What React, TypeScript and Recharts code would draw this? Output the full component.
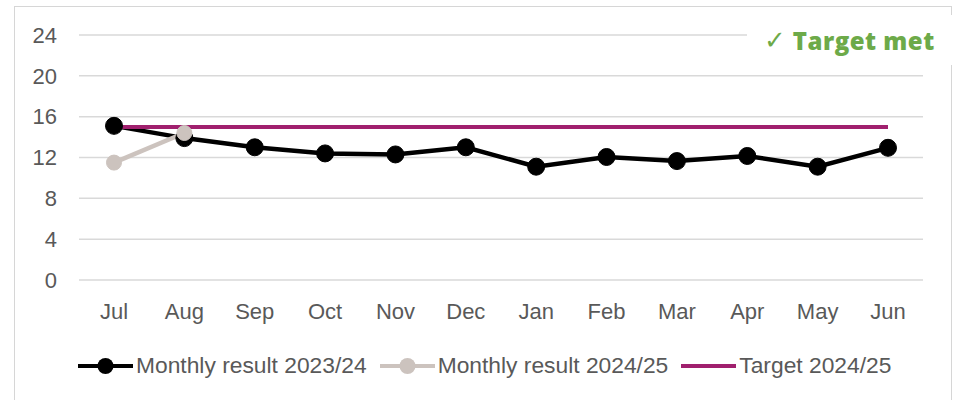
import React from 'react';
import { LineChart, Line, XAxis, YAxis, CartesianGrid, Legend } from 'recharts';

const months = ['Jul', 'Aug', 'Sep', 'Oct', 'Nov', 'Dec', 'Jan', 'Feb', 'Mar', 'Apr', 'May', 'Jun'];
const result2324 = [15.1, 13.9, 13.0, 12.4, 12.3, 13.0, 11.1, 12.05, 11.65, 12.15, 11.1, 12.95];
const result2425: (number | null)[] = [11.5, 14.4, null, null, null, null, null, null, null, null, null, null];
const target2425 = [15, 15, 15, 15, 15, 15, 15, 15, 15, 15, 15, 15];
const yTicks = [0, 4, 8, 12, 16, 20, 24];

const data = months.map((m, i) => ({
  month: m,
  r2324: result2324[i],
  r2425: result2425[i],
  target: target2425[i],
}));

const FONT = '"Liberation Sans", Arial, sans-serif';
const TEXT = '#595959';

const legendItems = [
  { label: 'Monthly result 2023/24', color: '#000000', dot: true },
  { label: 'Monthly result 2024/25', color: '#CCC3BE', dot: true },
  { label: 'Target 2024/25', color: '#A0206E', dot: false },
];

// Excel-style legend: line + filled marker in the middle
const renderLegend = () => (
  <div style={{ display: 'flex', alignItems: 'center', fontFamily: FONT, fontSize: 22.8, color: TEXT }}>
    {legendItems.map((it) => (
      <div key={it.label} style={{ display: 'flex', alignItems: 'center', marginRight: 13 }}>
        <svg width={55} height={20} style={{ marginRight: 3 }}>
          <line x1={0} y1={10} x2={55} y2={10} stroke={it.color} strokeWidth={4} />
          {it.dot && <circle cx={27.5} cy={10} r={8} fill={it.color} />}
        </svg>
        <span>{it.label}</span>
      </div>
    ))}
  </div>
);

export default function App() {
  return (
    <div style={{ position: 'absolute', left: 0, top: 0, width: 953, height: 400, background: '#fff', overflow: 'hidden' }}>
      <div
        style={{
          position: 'absolute',
          left: 14,
          top: 6,
          width: 936,
          height: 420,
          border: '1.5px solid #d6d6d6',
        }}
      />
      <LineChart
        width={953}
        height={400}
        data={data}
        margin={{ top: 35, right: 30, bottom: 80, left: 0 }}
        style={{ position: 'absolute', left: 0, top: 0 }}
      >
        <CartesianGrid vertical={false} stroke="#d9d9d9" strokeWidth={1.5} />
        <XAxis
          dataKey="month"
          height={40}
          axisLine={false}
          tickLine={false}
          tickMargin={17}
          padding={{ left: 35, right: 35 }}
          interval={0}
          tick={{ fill: TEXT, fontSize: 22, fontFamily: FONT }}
        />
        <YAxis
          width={79}
          domain={[0, 24]}
          ticks={yTicks}
          axisLine={false}
          tickLine={false}
          tickMargin={16}
          interval={0}
          tick={{ fill: TEXT, fontSize: 22, fontFamily: FONT }}
        />
        <Line
          dataKey="r2324"
          stroke="#000000"
          strokeWidth={4.5}
          dot={{ r: 8.5, fill: '#000000', stroke: '#000000', strokeWidth: 1 }}
          isAnimationActive={false}
        />
        <Line
          dataKey="r2425"
          stroke="#CCC3BE"
          strokeWidth={4.5}
          dot={{ r: 7.5, fill: '#CCC3BE', stroke: '#CCC3BE', strokeWidth: 1 }}
          isAnimationActive={false}
        />
        <Line
          dataKey="target"
          stroke="#A0206E"
          strokeWidth={4}
          dot={false}
          isAnimationActive={false}
        />
        <Legend
          verticalAlign="middle"
          layout="horizontal"
          content={renderLegend}
          wrapperStyle={{ top: 352, left: 78, width: 900 }}
        />
      </LineChart>
      <div
        style={{
          position: 'absolute',
          left: 747,
          top: 15,
          width: 206,
          height: 50,
          background: '#fff',
          display: 'flex',
          alignItems: 'center',
          fontFamily: '"Open Sans", sans-serif',
          fontWeight: 800,
          fontSize: 24,
          color: '#6DAA49',
        }}
      >
        <span style={{ marginLeft: 17, fontFamily: '"DejaVu Sans", sans-serif', fontWeight: 400, fontSize: 26 }}>✓</span>
        <span style={{ marginLeft: 7, letterSpacing: 0.5 }}>Target met</span>
      </div>
    </div>
  );
}
